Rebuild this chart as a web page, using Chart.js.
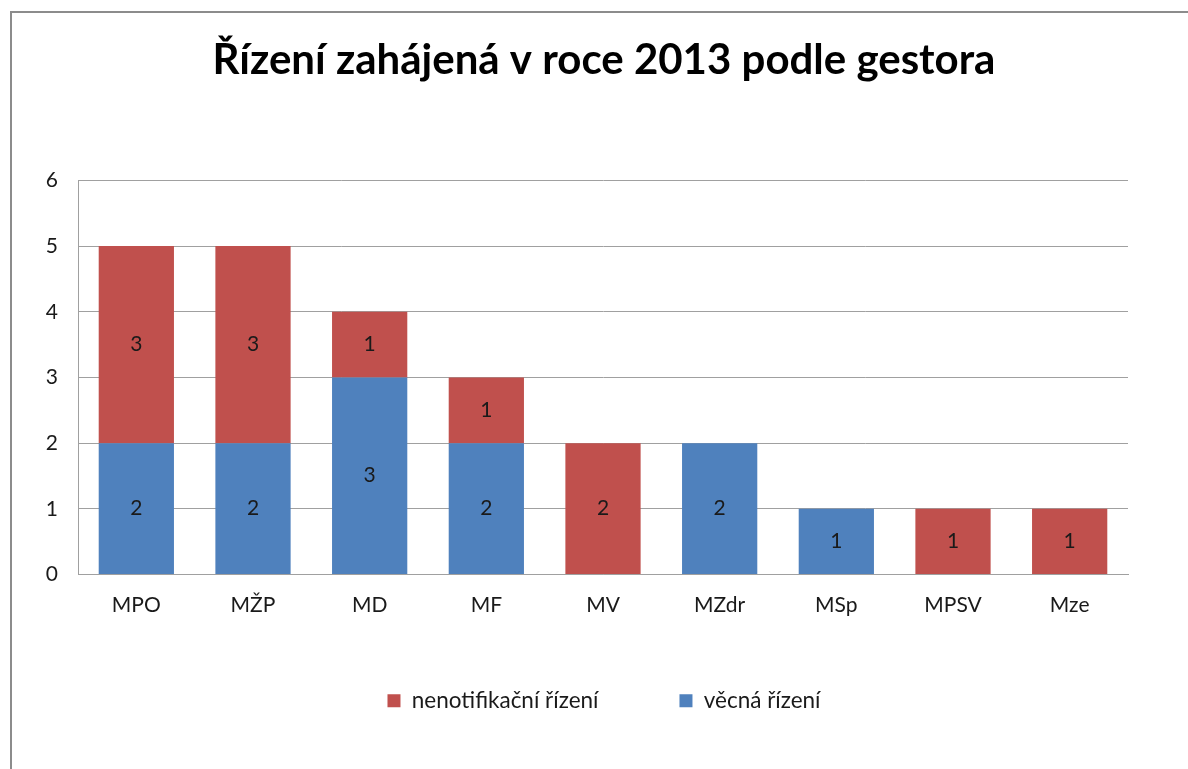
<!DOCTYPE html>
<html>
<head>
<meta charset="utf-8">
<script src="https://cdn.jsdelivr.net/npm/chart.js@4/dist/chart.umd.min.js"></script>
<style>
html,body{margin:0;padding:0;background:#fff;}
#wrap{position:absolute;left:0;top:0;width:1188px;height:769px;}
</style>
</head>
<body>
<div id="wrap"><canvas id="c" width="1188" height="769"></canvas></div>
<script>
const categories = ['MPO','MŽP','MD','MF','MV','MZdr','MSp','MPSV','Mze'];
const vecnaRizeni = [2,2,3,2,0,2,1,0,0];
const nenotifikacniRizeni = [3,3,1,1,2,0,0,1,1];
const yTicks = [0,1,2,3,4,5,6];
const titleText = 'Řízení zahájená v roce 2013 podle gestora';
const seriesNames = ['věcná řízení','nenotifikační řízení'];

const FONT = 'Lato, "Open Sans", sans-serif';

const framePlugin = {
  id: 'frame',
  beforeDraw(chart){
    const ctx = chart.ctx;
    ctx.save();
    ctx.fillStyle = '#fff';
    ctx.fillRect(0,0,chart.width,chart.height);
    ctx.strokeStyle = '#8c8c8c';
    ctx.lineWidth = 2;
    ctx.beginPath();
    ctx.moveTo(11, chart.height);
    ctx.lineTo(11, 12);
    ctx.lineTo(chart.width, 12);
    ctx.stroke();
    ctx.restore();
  },
  afterLayout(chart){
    // widen the x scale's label clip box so tick labels are not cut
    const x = chart.scales.x;
    x.bottom = x.top + 70;
  }
};

const labelPlugin = {
  id: 'vals',
  afterDatasetsDraw(chart){
    const ctx = chart.ctx;
    ctx.save();
    ctx.font = '21px ' + FONT;
    ctx.fillStyle = '#1a1a1a';
    ctx.textAlign = 'center';
    ctx.textBaseline = 'middle';
    chart.data.datasets.forEach((ds, di) => {
      const meta = chart.getDatasetMeta(di);
      meta.data.forEach((el, i) => {
        const v = ds.data[i];
        if (!v) return;
        ctx.fillText(String(v), el.x, (el.y + el.base) / 2);
      });
    });
    ctx.restore();
  }
};

new Chart(document.getElementById('c'), {
  type: 'bar',
  data: {
    labels: categories,
    datasets: [
      { label: seriesNames[0], data: vecnaRizeni, backgroundColor: '#4F81BD', borderWidth: 0, yAxisID: 'y' },
      { label: seriesNames[1], data: nenotifikacniRizeni, backgroundColor: '#C0504D', borderWidth: 0, yAxisID: 'y' }
    ]
  },
  options: {
    responsive: false,
    animation: false,
    devicePixelRatio: 1,
    layout: { padding: { left: 20, right: 0, top: 0, bottom: 47 } },
    datasets: { bar: { categoryPercentage: 1, barPercentage: 0.645 } },
    plugins: {
      title: {
        display: true,
        text: titleText,
        color: '#000',
        font: { family: FONT, size: 42, weight: 'bold' },
        padding: { top: 35, bottom: 95 }
      },
      legend: {
        display: true,
        position: 'bottom',
        reverse: true,
        labels: {
          color: '#1a1a1a',
          font: { family: FONT, size: 22.5 },
          boxWidth: 13,
          boxHeight: 13,
          padding: 81
        }
      },
      tooltip: { enabled: false }
    },
    scales: {
      x: {
        stacked: true,
        grid: { display: false, drawTicks: false },
        border: { display: true, color: '#a0a0a0', width: 1 },
        ticks: { color: '#1a1a1a', font: { family: FONT, size: 21 }, padding: 18, maxRotation: 0 },
        afterFit(s){ s.height = 34; }
      },
      y: {
        stacked: true,
        min: 0, max: 6,
        afterBuildTicks(s){ s.ticks = yTicks.map(v => ({value: v})); },
        grid: { color: '#a0a0a0', drawTicks: false },
        border: { display: true, color: '#a0a0a0', width: 1 },
        ticks: { color: '#1a1a1a', font: { family: FONT, size: 21 }, padding: 20 },
        afterFit(s){ s.width = 58; }
      },
      yRightSpace: {
        type: 'linear',
        position: 'right',
        min: 0, max: 6,
        grid: { display: false, drawTicks: false },
        border: { display: false },
        ticks: { display: false },
        afterFit(s){ s.width = 60; }
      }
    }
  },
  plugins: [framePlugin, labelPlugin]
});
</script>
</body>
</html>
